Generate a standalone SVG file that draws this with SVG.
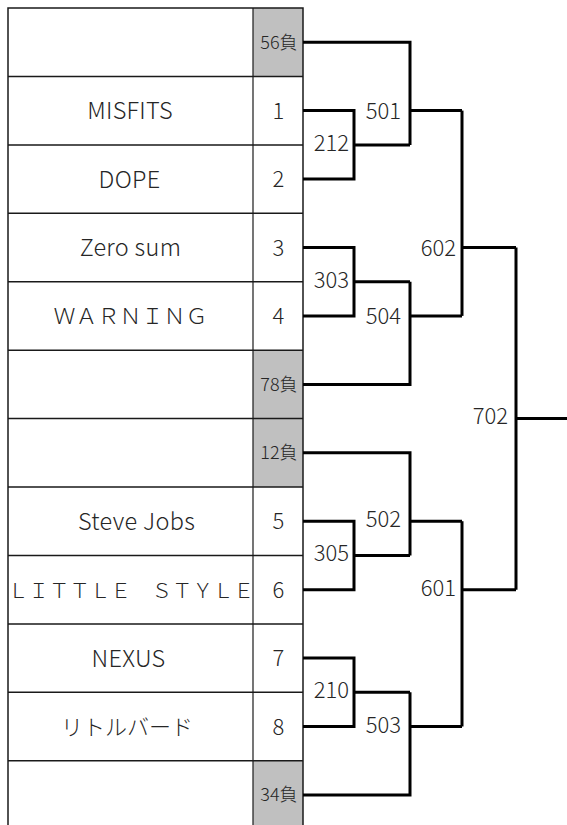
<svg xmlns="http://www.w3.org/2000/svg" width="567" height="825" viewBox="0 0 567 825">
<style>
  .grid { fill: none; stroke: #1a1a1a; stroke-width: 1.5; }
  .vdiv { stroke: #1a1a1a; stroke-width: 1.2; }
  .gray { fill: #c0c0c0; }
  .t { font-family: "Noto Sans CJK JP", "Noto Sans", sans-serif; font-size: 22px; font-weight: 300; fill: #262626; }
  .name { text-anchor: middle; }
  .lat { font-size: 23.5px; letter-spacing: 0.3px; }
  .num { text-anchor: middle; }
  .small { font-size: 18px; text-anchor: middle; }
  .lbl { text-anchor: end; }
  .con { fill: none; stroke: #000; stroke-width: 3; stroke-linejoin: miter; }
</style>
<rect width="567" height="825" fill="#fff"/>

<g id="table">
  <rect class="gray" x="253" y="8" width="50" height="68.4"/>
  <rect class="gray" x="253" y="350.2" width="50" height="136.8"/>
  <rect class="gray" x="253" y="760.7" width="50" height="70"/>
  <path class="grid" d="M8,830 V8 H303 V830"/>
  <path class="grid" d="M8,76.4 H303 M8,144.9 H303 M8,213.3 H303 M8,281.7 H303 M8,350.2 H303 M8,418.6 H303 M8,487 H303 M8,555.4 H303 M8,623.9 H303 M8,692.3 H303 M8,760.7 H303"/>
  <path class="vdiv" d="M253,8 V830"/>
</g>

<g id="slot-56">
  <text class="t small" x="279" y="48.5">56負</text>
</g>
<g id="team-1">
  <text class="t name lat" x="130" y="119.2">MISFITS</text>
  <text class="t num" x="278.5" y="118.6">1</text>
</g>
<g id="team-2">
  <text class="t name lat" x="129.5" y="187.7">DOPE</text>
  <text class="t num" x="278.5" y="187.1">2</text>
</g>
<g id="team-3">
  <text class="t name lat" x="130.5" y="256.1">Zero sum</text>
  <text class="t num" x="278.5" y="255.5">3</text>
</g>
<g id="team-4">
  <text class="t name" x="130.5" y="323.9">ＷＡＲＮＩＮＧ</text>
  <text class="t num" x="278.5" y="323.9">4</text>
</g>
<g id="slot-78">
  <text class="t small" x="279" y="390.7">78負</text>
</g>
<g id="slot-12">
  <text class="t small" x="279" y="459.1">12負</text>
</g>
<g id="team-5">
  <text class="t name lat" x="136.5" y="529.8">Steve Jobs</text>
  <text class="t num" x="278.5" y="529.2">5</text>
</g>
<g id="team-6">
  <text class="t name" x="131" y="597.7" style="font-size:20.5px">ＬＩＴＴＬＥ　ＳＴＹＬＥ</text>
  <text class="t num" x="278.5" y="597.7">6</text>
</g>
<g id="team-7">
  <text class="t name lat" x="128.5" y="666.7">NEXUS</text>
  <text class="t num" x="278.5" y="666.1">7</text>
</g>
<g id="team-8">
  <text class="t name" x="127" y="734.5">リトルバード</text>
  <text class="t num" x="278.5" y="734.5">8</text>
</g>
<g id="slot-34">
  <text class="t small" x="279" y="801.3">34負</text>
</g>

<g id="connectors">
  <path class="con" d="M303,110.6 H354 V179.1 H303"/>
  <path class="con" d="M354,144.9 H410"/>
  <path class="con" d="M303,42.2 H410 V144.9"/>
  <path class="con" d="M410,110.6 H462"/>
  <path class="con" d="M303,247.5 H354 V315.9 H303"/>
  <path class="con" d="M354,281.7 H410"/>
  <path class="con" d="M303,384.4 H410 V281.7"/>
  <path class="con" d="M410,315.9 H462"/>
  <path class="con" d="M462,110.6 V315.9"/>
  <path class="con" d="M462,247.5 H516"/>
  <path class="con" d="M303,521.2 H354 V589.7 H303"/>
  <path class="con" d="M354,555.4 H410"/>
  <path class="con" d="M303,452.8 H410 V555.4"/>
  <path class="con" d="M410,521.2 H462"/>
  <path class="con" d="M303,658.1 H354 V726.5 H303"/>
  <path class="con" d="M354,692.3 H410"/>
  <path class="con" d="M303,795 H410 V692.3"/>
  <path class="con" d="M410,726.5 H462"/>
  <path class="con" d="M462,521.2 V726.5"/>
  <path class="con" d="M462,589.7 H516"/>
  <path class="con" d="M516,247.5 V589.7"/>
  <path class="con" d="M516,418.6 H567"/>
</g>

<g id="match-212"><text class="t lbl" x="349" y="151">212</text></g>
<g id="match-501"><text class="t lbl" x="401" y="118.6">501</text></g>
<g id="match-303"><text class="t lbl" x="349" y="288">303</text></g>
<g id="match-504"><text class="t lbl" x="401" y="324">504</text></g>
<g id="match-602"><text class="t lbl" x="456" y="255.5">602</text></g>
<g id="match-305"><text class="t lbl" x="349" y="560.5">305</text></g>
<g id="match-502"><text class="t lbl" x="401" y="527">502</text></g>
<g id="match-210"><text class="t lbl" x="349" y="698">210</text></g>
<g id="match-503"><text class="t lbl" x="401" y="732.7">503</text></g>
<g id="match-601"><text class="t lbl" x="456" y="596">601</text></g>
<g id="match-702"><text class="t lbl" x="508" y="424">702</text></g>
</svg>
